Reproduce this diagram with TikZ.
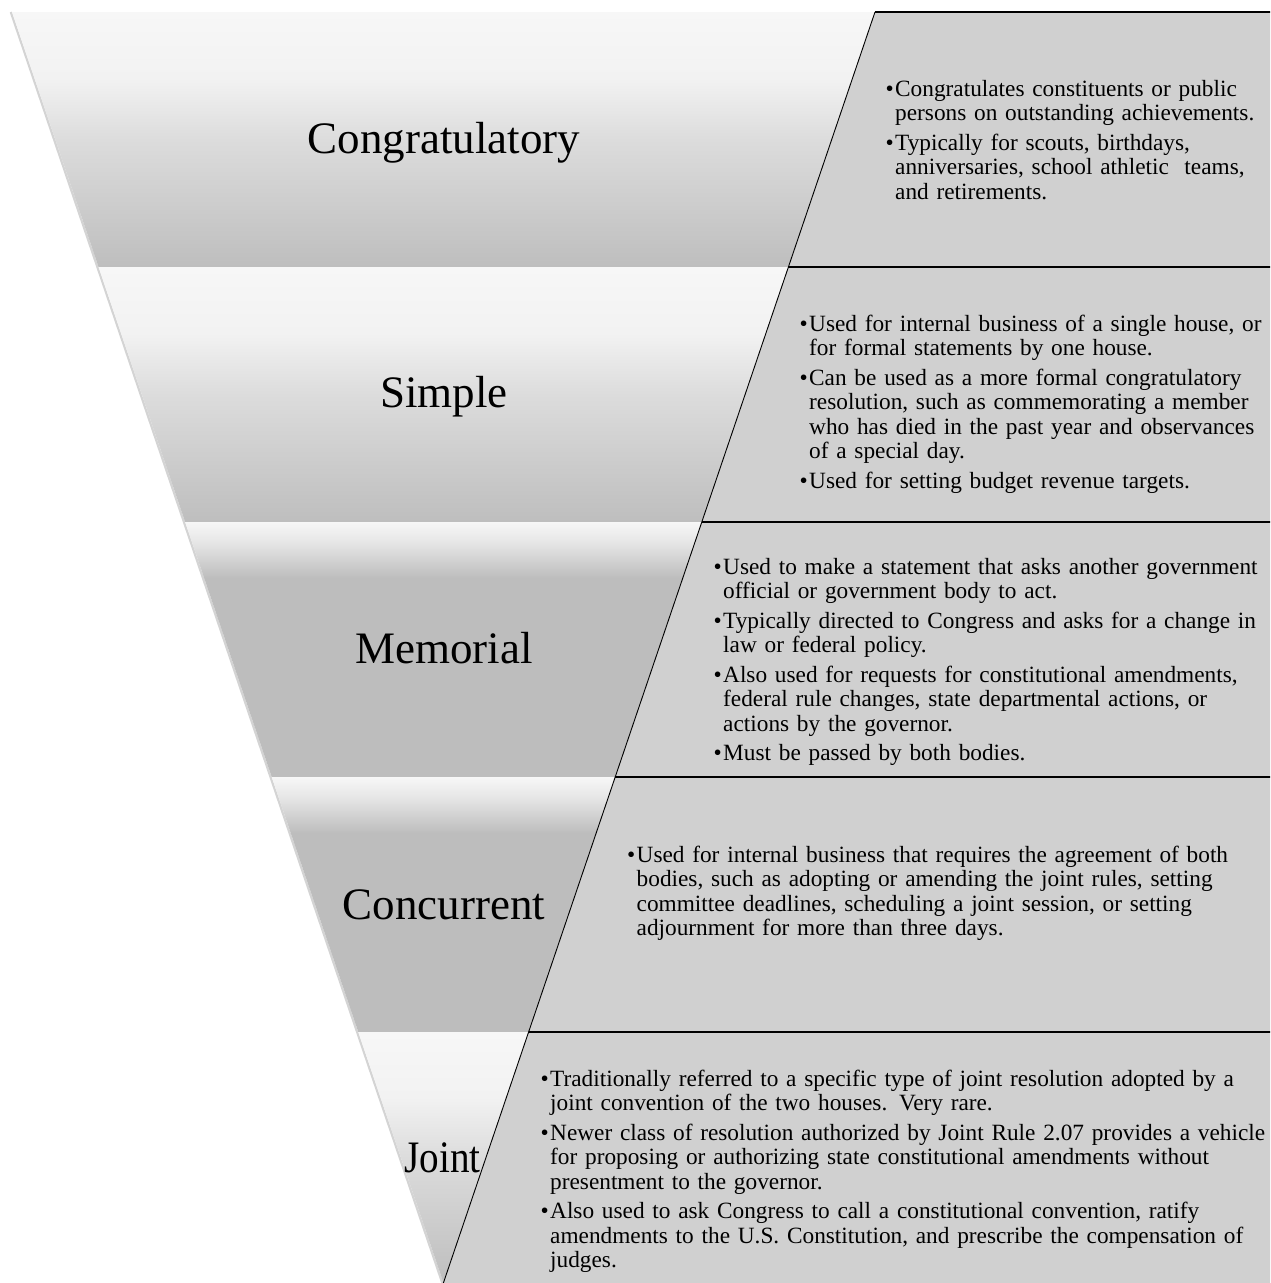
\documentclass[tikz,border=0pt]{standalone}
\usepackage{fontspec}
\setmainfont{Liberation Serif}
\definecolor{panelgray}{HTML}{D0D0D0}
\definecolor{fT}{HTML}{F7F7F7}
\definecolor{fTT}{HTML}{F2F2F2}
\definecolor{fM}{HTML}{DCDCDC}
\definecolor{fB}{HTML}{BEBEBE}
\definecolor{fS}{HTML}{BDBDBD}
\definecolor{fSS}{HTML}{E6E6E6}
\definecolor{edgeshadow}{HTML}{D4D4D4}
\pgfdeclareverticalshading{smoothfill}{100bp}{color(0bp)=(fB); color(25bp)=(fB); color(50bp)=(fM); color(62bp)=(fTT); color(75bp)=(fT); color(100bp)=(fT)}
\pgfdeclareverticalshading{sharpfill}{100bp}{color(0bp)=(fS); color(25bp)=(fS); color(64bp)=(fS); color(71bp)=(fSS); color(75bp)=(fT); color(100bp)=(fT)}
\newcommand\bitem{\par\hangindent=9.5pt\hangafter=1\noindent\makebox[9.5pt][l]{\textbullet}}
\tikzset{
  lab/.style={anchor=base, inner sep=0pt, font=\fontsize{45}{50}\selectfont},
  desc/.style={anchor=north west, inner sep=0pt, text width=760pt, align=left,
               font=\fontsize{23.3}{24.5}\selectfont},
  panel/.style={fill=panelgray},
  hline/.style={draw=black, line width=1.8pt},
  dline/.style={draw=black, line width=0.9pt}
}
\begin{document}
\begin{tikzpicture}[x=1pt,y=-1pt]
\useasboundingbox[fill=white] (0,0) rectangle (1270,1283);
\clip (0,0) rectangle (1270,1283);
% left edge points
\coordinate (L0) at (12,12);
\coordinate (L1) at (98.57,267);
\coordinate (L2) at (185.14,522);
\coordinate (L3) at (271.72,777);
\coordinate (L4) at (358.29,1032);
\coordinate (tip) at (443.5,1283);
% diagonal points
\coordinate (D0) at (875,12);
\coordinate (D1) at (788.43,267);
\coordinate (D2) at (701.86,522);
\coordinate (D3) at (615.28,777);
\coordinate (D4) at (528.71,1032);
% right points (beyond the page edge)
\coordinate (R0) at (1280,12);
\coordinate (R1) at (1280,267);
\coordinate (R2) at (1280,522);
\coordinate (R3) at (1280,777);
\coordinate (R4) at (1280,1032);
\coordinate (R5) at (1280,1300);
\coordinate (D5) at (437.6,1300);
% soft shadow along the left edge
\draw[edgeshadow, line width=2.2pt] ([xshift=-1.2pt]L0) -- ([xshift=-1.2pt]tip);
% funnel sections
\shade[shading=smoothfill] (L0) -- (D0) -- (D1) -- (L1) -- cycle;
\shade[shading=smoothfill] (L1) -- (D1) -- (D2) -- (L2) -- cycle;
\shade[shading=sharpfill]  (L2) -- (D2) -- (D3) -- (L3) -- cycle;
\shade[shading=sharpfill]  (L3) -- (D3) -- (D4) -- (L4) -- cycle;
\shade[shading=smoothfill] (L4) -- (D4) -- (tip) -- cycle;
% text panels
\fill[panel] (D0) -- (R0) -- (R5) -- (D5) -- cycle;
\draw[dline] (D0) -- (D5);
\draw[hline] (D0) -- (R0);
\draw[hline] (D1) -- (R1);
\draw[hline] (D2) -- (R2);
\draw[hline] (D3) -- (R3);
\draw[hline] (D4) -- (R4);
% labels
\node[lab] (l1) at (444,153) {Congratulatory};
\node[lab] (l2) at (444,407) {Simple};
\node[lab] (l3) at (444,663) {Memorial};
\node[lab] (l4) at (444,919) {Concurrent};
\node[lab] (l5) at (442.5,1172) {\scalebox{0.87}[1]{Joint}};
% descriptions
\node[desc] (t1) at (885.5,66.6) {\setlength{\parskip}{5pt}%
\bitem Congratulates constituents or public\newline persons on outstanding achievements.
\bitem Typically for scouts, birthdays,\newline anniversaries, school athletic\ \ teams,\newline and retirements.\par};
\node[desc] (t2) at (799.5,301.6) {\setlength{\parskip}{5pt}%
\bitem Used for internal business of a single house, or\newline for formal statements by one house.
\bitem Can be used as a more formal congratulatory\newline resolution, such as commemorating a member\newline who has died in the past year and observances\newline of a special day.
\bitem Used for setting budget revenue targets.\par};
\node[desc] (t3) at (713.5,544.6) {\setlength{\parskip}{5pt}%
\bitem Used to make a statement that asks another government\newline official or government body to act.
\bitem Typically directed to Congress and asks for a change in\newline law or federal policy.
\bitem Also used for requests for constitutional amendments,\newline federal rule changes, state departmental actions, or\newline actions by the governor.
\bitem Must be passed by both bodies.\par};
\node[desc] (t4) at (627,832.6) {\setlength{\parskip}{5pt}%
\bitem Used for internal business that requires the agreement of both\newline bodies, such as adopting or amending the joint rules, setting\newline committee deadlines, scheduling a joint session, or setting\newline adjournment for more than three days.\par};
\node[desc] (t5) at (540.5,1056.6) {\setlength{\parskip}{5pt}%
\bitem Traditionally referred to a specific type of joint resolution adopted by a\newline joint convention of the two houses. Very rare.
\bitem Newer class of resolution authorized by Joint Rule 2.07 provides a vehicle\newline for proposing or authorizing state constitutional amendments without\newline presentment to the governor.
\bitem Also used to ask Congress to call a constitutional convention, ratify\newline amendments to the U.S. Constitution, and prescribe the compensation of\newline judges.\par};
\end{tikzpicture}
\end{document}
